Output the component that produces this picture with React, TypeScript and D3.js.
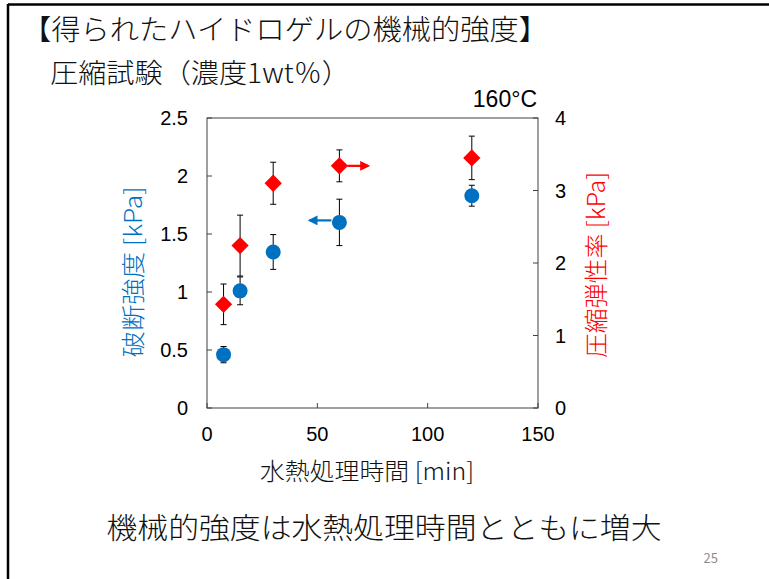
import * as d3 from 'd3';

// 水熱処理時間 [min]
const times = [7.5, 15, 30, 60, 120];
// 破断強度 [kPa]（左軸）
const breakStrength = [0.46, 1.01, 1.345, 1.6, 1.83];
const breakErr = [0.07, 0.12, 0.15, 0.2, 0.09];
// 圧縮弾性率 [kPa]（右軸）
const modulus = [1.43, 2.24, 3.1, 3.34, 3.45];
const modulusErr = [0.28, 0.42, 0.29, 0.22, 0.3];

const xTicks = [0, 50, 100, 150];
const leftTicks = [0, 0.5, 1, 1.5, 2, 2.5];
const rightTicks = [0, 1, 2, 3, 4];

// 矢印の先（どちらの軸か示す）
const blueArrowTo = 46.5;
const redArrowTo = 73;

const W = 769;
const H = 579;
const plot = { left: 207, right: 538, top: 118, bottom: 408 };

const BLUE = '#0070C0';
const RED = '#FF0000';
const JP = '"Noto Sans CJK JP", sans-serif';
const NUM = '"Liberation Sans", Arial, sans-serif';

export default function App() {
  const x = d3.scaleLinear().domain([0, 150]).range([plot.left, plot.right]);
  const yL = d3.scaleLinear().domain([0, 2.5]).range([plot.bottom, plot.top]);
  const yR = d3.scaleLinear().domain([0, 4]).range([plot.bottom, plot.top]);
  const diamond = d3.symbol().type(d3.symbolDiamond2).size(190)();

  const errBar = (cx: number, y1: number, y2: number, key: string) => (
    <g key={key} stroke="#000" strokeWidth={1}>
      <line x1={cx} x2={cx} y1={y1} y2={y2} />
      <line x1={cx - 3} x2={cx + 3} y1={y1} y2={y1} />
      <line x1={cx - 3} x2={cx + 3} y1={y2} y2={y2} />
    </g>
  );

  return (
    <svg width={W} height={H} style={{ position: 'absolute', left: 0, top: 0, background: '#fff' }}>
      <defs>
        <marker id="ahBlue" viewBox="0 0 10 10" refX="8" refY="5" markerWidth="4.5" markerHeight="4.5" orient="auto-start-reverse">
          <path d="M0,0 L10,5 L0,10 z" fill={BLUE} />
        </marker>
        <marker id="ahRed" viewBox="0 0 10 10" refX="8" refY="5" markerWidth="4.5" markerHeight="4.5" orient="auto-start-reverse">
          <path d="M0,0 L10,5 L0,10 z" fill={RED} />
        </marker>
      </defs>
      {/* スライド枠 */}
      <line x1={8} x2={W} y1={4.5} y2={4.5} stroke="#000" strokeWidth={2.5} />
      <line x1={8} x2={8} y1={4} y2={H} stroke="#000" strokeWidth={2.5} />

      <text x={22} y={40} fontFamily={JP} fontSize={28} fontWeight={300} fill="#111" textLength={526} lengthAdjust="spacingAndGlyphs">
        【得られたハイドロゲルの機械的強度】
      </text>
      <text x={50} y={83} fontFamily={JP} fontSize={27} fontWeight={300} fill="#111" textLength={300} lengthAdjust="spacingAndGlyphs">
        圧縮試験（濃度1wt％）
      </text>

      <text x={537} y={107} fontFamily={NUM} fontSize={23} textAnchor="end" fill="#000">160°C</text>

      {/* 枠 */}
      <rect x={plot.left} y={plot.top} width={plot.right - plot.left} height={plot.bottom - plot.top}
        fill="none" stroke="#404040" strokeWidth={1} />

      {/* 目盛 */}
      {xTicks.map(t => (
        <g key={'x' + t}>
          <line x1={x(t)} x2={x(t)} y1={plot.bottom} y2={plot.bottom - 5} stroke="#404040" />
          <text x={x(t)} y={434} dy="0.35em" fontFamily={NUM} fontSize={20} textAnchor="middle">{t}</text>
        </g>
      ))}
      {leftTicks.map(t => (
        <g key={'l' + t}>
          <line x1={plot.left} x2={plot.left + 5} y1={yL(t)} y2={yL(t)} stroke="#404040" />
          <text x={188} y={yL(t)} dy="0.35em" fontFamily={NUM} fontSize={20} textAnchor="end">{t}</text>
        </g>
      ))}
      {rightTicks.map(t => (
        <g key={'r' + t}>
          <line x1={plot.right} x2={plot.right - 5} y1={yR(t)} y2={yR(t)} stroke="#404040" />
          <text x={555} y={yR(t)} dy="0.35em" fontFamily={NUM} fontSize={20} textAnchor="start">{t}</text>
        </g>
      ))}

      {/* 軸タイトル */}
      <text x={367} y={480} fontFamily={JP} fontSize={24} fontWeight={300} textAnchor="middle" fill="#111" textLength={214} lengthAdjust="spacingAndGlyphs">
        水熱処理時間 [min]
      </text>
      <text transform="translate(134,272) rotate(-90)" dy="0.35em" fontFamily={JP} fontSize={24} fontWeight={300} textAnchor="middle" fill={BLUE} textLength={171} lengthAdjust="spacingAndGlyphs">
        破断強度 [kPa]
      </text>
      <text transform="translate(597,265) rotate(-90)" dy="0.35em" fontFamily={JP} fontSize={24} fontWeight={300} textAnchor="middle" fill={RED} textLength={186} lengthAdjust="spacingAndGlyphs">
        圧縮弾性率 [kPa]
      </text>

      {/* 矢印 */}
      <line x1={x(times[3]) - 8} x2={x(blueArrowTo)} y1={yL(breakStrength[3]) - 2} y2={yL(breakStrength[3]) - 2}
        stroke={BLUE} strokeWidth={2.2} markerEnd="url(#ahBlue)" />
      <line x1={x(times[3]) + 8} x2={x(redArrowTo)} y1={yR(modulus[3])} y2={yR(modulus[3])}
        stroke={RED} strokeWidth={2.2} markerEnd="url(#ahRed)" />

      {/* 誤差棒 */}
      {times.map((t, i) => errBar(x(t), yR(modulus[i] + modulusErr[i]), yR(modulus[i] - modulusErr[i]), 'er' + i))}
      {times.map((t, i) => errBar(x(t), yL(breakStrength[i] + breakErr[i]), yL(breakStrength[i] - breakErr[i]), 'eb' + i))}

      {/* 点 */}
      {times.map((t, i) => (
        <path key={'d' + i} d={diamond} transform={`translate(${x(t)},${yR(modulus[i])})`} fill={RED} />
      ))}
      {times.map((t, i) => (
        <circle key={'c' + i} cx={x(t)} cy={yL(breakStrength[i])} r={7.5} fill={BLUE} />
      ))}

      <text x={384} y={539} fontFamily={JP} fontSize={29} fontWeight={300} textAnchor="middle" fill="#111" textLength={555} lengthAdjust="spacingAndGlyphs">
        機械的強度は水熱処理時間とともに増大
      </text>
      <text x={718} y={563} fontFamily={JP} fontSize={13} textAnchor="end" fill="#8c8c8c">25</text>
    </svg>
  );
}
